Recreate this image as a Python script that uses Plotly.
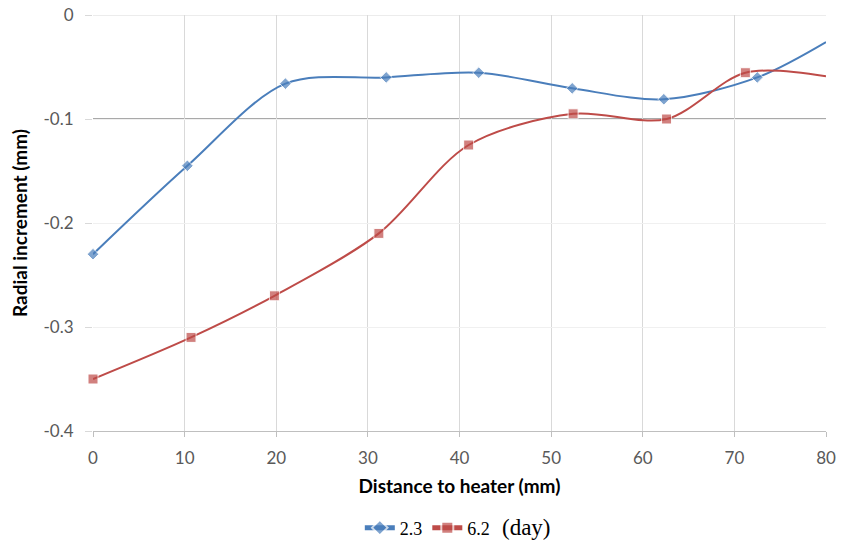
import plotly.graph_objects as go

# Data
x_23 = [0, 10.3, 21.0, 32.0, 42.1, 52.3, 62.3, 72.5, 80.0]
y_23 = [-0.230, -0.145, -0.066, -0.060, -0.0555, -0.0705, -0.081, -0.060, -0.026]
x_62 = [0, 10.7, 19.8, 31.2, 41.0, 52.4, 62.6, 71.2, 80.0]
y_62 = [-0.350, -0.310, -0.270, -0.210, -0.125, -0.095, -0.100, -0.0555, -0.059]
series_names = ["2.3", "6.2"]
x_ticks = [0, 10, 20, 30, 40, 50, 60, 70, 80]
y_ticks = [0, -0.1, -0.2, -0.3, -0.4]
y_ticklabels = ["0", "-0.1", "-0.2", "-0.3", "-0.4"]
ref_line_y = -0.1

BLUE = "#4A7EBB"
RED = "#BE4B48"
TICK_FONT = dict(family="Lato", size=17, color="#595959")
TITLE_FONT = dict(family="Lato", size=19, color="#000000")

def sizes(n, s):
    return [s] * (n - 1) + [0]

fig = go.Figure()
fig.add_trace(go.Scatter(
    x=x_23, y=y_23, name=series_names[0], mode="lines+markers",
    line=dict(color=BLUE, width=2, shape="spline", smoothing=0.9),
    marker=dict(symbol="diamond", size=sizes(len(x_23), 9), color=BLUE),
    cliponaxis=False,
))
fig.add_trace(go.Scatter(
    x=x_62, y=y_62, name=series_names[1], mode="lines+markers",
    line=dict(color=RED, width=2, shape="spline", smoothing=0.9),
    marker=dict(symbol="square", size=sizes(len(x_62), 10), color=RED),
    cliponaxis=False,
))

fig.add_shape(type="line", xref="paper", x0=0, x1=1, yref="y", y0=ref_line_y, y1=ref_line_y,
              line=dict(color="#8C8C8C", width=1.3), layer="below")
fig.add_shape(type="line", xref="paper", x0=0, x1=1, yref="y", y0=y_ticks[0], y1=y_ticks[0],
              line=dict(color="#D9D9D9", width=1), layer="below")

fig.add_annotation(text="(day)", xref="paper", yref="paper", x=0.555, y=-0.233,
                   xanchor="left", yanchor="middle", showarrow=False,
                   font=dict(family="Liberation Serif", size=23, color="#000000"))

fig.update_layout(
    width=841, height=544,
    margin=dict(l=93, r=15, t=15, b=113, autoexpand=False),
    paper_bgcolor="white", plot_bgcolor="white",
    showlegend=True,
    legend=dict(orientation="h", x=0.364, y=-0.233, xanchor="left", yanchor="middle",
                font=dict(family="Liberation Serif", size=18, color="#000000"),
                itemwidth=30, tracegroupgap=0, itemsizing="constant"),
    xaxis=dict(range=[0, 80], tickvals=x_ticks, showgrid=True, gridcolor="#D9D9D9", gridwidth=1,
               zeroline=False, showline=True, linecolor="#BFBFBF", linewidth=1.3,
               ticks="outside", ticklen=5, tickcolor="#BFBFBF", automargin=False,
               ticklabelstandoff=6, ticklabeloverflow="allow",
               tickfont=TICK_FONT,
               title=dict(text="<b>Distance to heater (mm)</b>", standoff=13, font=TITLE_FONT)),
    yaxis=dict(range=[-0.4, 0], tickvals=y_ticks, ticktext=y_ticklabels,
               showgrid=True, gridcolor="#F0F0F0", gridwidth=1,
               zeroline=False, showline=False, automargin=False,
               ticks="outside", ticklen=7, tickcolor="#D9D9D9",
               ticklabelstandoff=8, ticklabeloverflow="allow",
               tickfont=TICK_FONT,
               title=dict(text="<b>Radial increment (mm)</b>", standoff=10, font=TITLE_FONT)),
)

fig.write_html("out.html", config={"displayModeBar": False},
               post_script="document.body.style.margin='0';document.body.style.overflow='hidden';")
